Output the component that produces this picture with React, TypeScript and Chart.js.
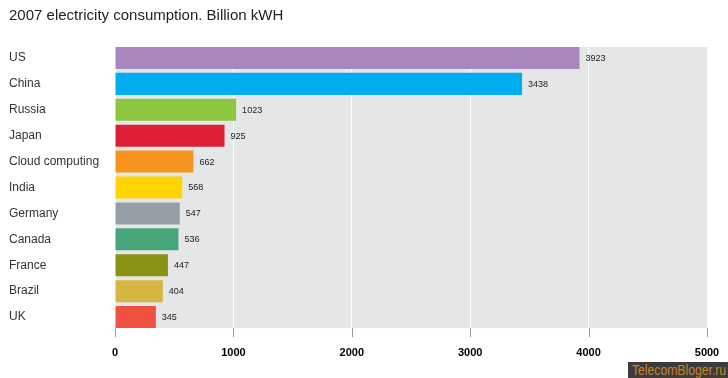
import React, { useEffect, useRef } from "react";
import { Chart, registerables } from "chart.js";

Chart.register(...registerables);

const categories = ["US", "China", "Russia", "Japan", "Cloud computing", "India", "Germany", "Canada", "France", "Brazil", "UK"];
const values = [3923, 3438, 1023, 925, 662, 568, 547, 536, 447, 404, 345];
const barColors = ["#a886be", "#00aeef", "#8dc63f", "#dc1f35", "#f7941d", "#ffd400", "#959ea5", "#46a67a", "#8a9313", "#d4b640", "#f05240"];
const xTicks = [0, 1000, 2000, 3000, 4000, 5000];
const titleText = "2007 electricity consumption. Billion kWH";
const watermark = "TelecomBloger.ru";

const FONT = "'Liberation Sans', Arial, Helvetica, sans-serif";

function plotBounds(chart: any) {
  const meta = chart.getDatasetMeta(0);
  const first = meta.data[0] as any;
  const last = meta.data[meta.data.length - 1] as any;
  const top = first.y - first.height / 2;
  const bottom = last.y + last.height / 2;
  return { top, bottom };
}

export default function App() {
  const ref = useRef<HTMLCanvasElement | null>(null);

  useEffect(() => {
    const canvas = ref.current;
    if (!canvas) return;

    const bgPlugin = {
      id: "plotBg",
      beforeDraw(chart: any) {
        const { ctx, chartArea } = chart;
        const { top, bottom } = plotBounds(chart);
        ctx.save();
        ctx.fillStyle = "#e5e6e8";
        ctx.fillRect(chartArea.left, top, chartArea.right - chartArea.left, bottom - top);
        ctx.restore();
      },
      afterDraw(chart: any) {
        const { ctx } = chart;
        const { bottom } = plotBounds(chart);
        const xs = chart.scales.x;
        ctx.save();
        ctx.strokeStyle = "#9a9a9a";
        ctx.lineWidth = 1;
        xTicks.forEach((v) => {
          const x = Math.round(xs.getPixelForValue(v)) + 0.5;
          ctx.beginPath();
          ctx.moveTo(x, bottom);
          ctx.lineTo(x, bottom + 9);
          ctx.stroke();
        });
        ctx.restore();
      },
    };

    const valuePlugin = {
      id: "values",
      afterDatasetsDraw(chart: any) {
        const { ctx } = chart;
        const meta = chart.getDatasetMeta(0);
        ctx.save();
        ctx.font = `9px ${FONT}`;
        ctx.fillStyle = "#222";
        ctx.textAlign = "left";
        ctx.textBaseline = "middle";
        meta.data.forEach((bar: any, i: number) => {
          ctx.fillText(String(values[i]), bar.x + 6, bar.y + 0.5);
        });
        ctx.restore();
      },
    };

    const chart = new Chart(canvas, {
      type: "bar",
      data: {
        labels: categories,
        datasets: [
          {
            data: values,
            backgroundColor: barColors,
            borderWidth: 0,
            barPercentage: 0.85,
            categoryPercentage: 1,
          },
        ],
      },
      options: {
        indexAxis: "y",
        animation: false,
        responsive: false,
        maintainAspectRatio: false,
        layout: { padding: { top: 45, left: 9, right: 21, bottom: 0 } },
        plugins: {
          legend: { display: false },
          tooltip: { enabled: false },
          title: { display: false },
        },
        scales: {
          x: {
            min: 0,
            max: 5000,
            afterBuildTicks(scale: any) {
              scale.ticks = xTicks.map((v) => ({ value: v }));
            },
            afterFit(scale: any) {
              scale.height = 48;
              scale.paddingLeft = 0;
              scale.paddingRight = 0;
            },
            border: { display: false },
            grid: {
              color: "#ffffff",
              lineWidth: 1,
              drawTicks: false,
            },
            ticks: {
              color: "#000",
              font: { family: FONT, size: 11, weight: "bold" },
              padding: 16,
              maxRotation: 0,
              callback: (v: any) => String(v),
            },
          },
          y: {
            afterFit(scale: any) {
              scale.width = 106;
            },
            border: { display: false },
            grid: { display: false, drawTicks: false },
            ticks: {
              crossAlign: "far",
              color: "#333",
              font: { family: FONT, size: 12 },
              padding: 0,
              autoSkip: false,
            },
          },
        },
      },
      plugins: [bgPlugin, valuePlugin],
    });

    return () => chart.destroy();
  }, []);

  return (
    <div style={{ position: "absolute", left: 0, top: 0, width: 728, height: 378, background: "#fff", overflow: "hidden" }}>
      <canvas ref={ref} width={728} height={378} style={{ position: "absolute", left: 0, top: 0, width: 728, height: 378 }} />
      <div
        style={{
          position: "absolute",
          left: 9,
          top: 6,
          fontFamily: FONT,
          fontSize: 15,
          color: "#222",
          lineHeight: "17px",
          whiteSpace: "nowrap",
        }}
      >
        {titleText}
      </div>
      <div
        style={{
          position: "absolute",
          left: 628,
          top: 362,
          width: 100,
          height: 16,
          background: "#3c3c3c",
          overflow: "hidden",
        }}
      >
        <span
          style={{
            position: "absolute",
            left: 4,
            top: 0,
            color: "#c9852c",
            fontFamily: FONT,
            fontSize: 14,
            lineHeight: "16px",
            whiteSpace: "nowrap",
            transform: "scaleX(0.87)",
            transformOrigin: "left center",
          }}
        >
          {watermark}
        </span>
      </div>
    </div>
  );
}
